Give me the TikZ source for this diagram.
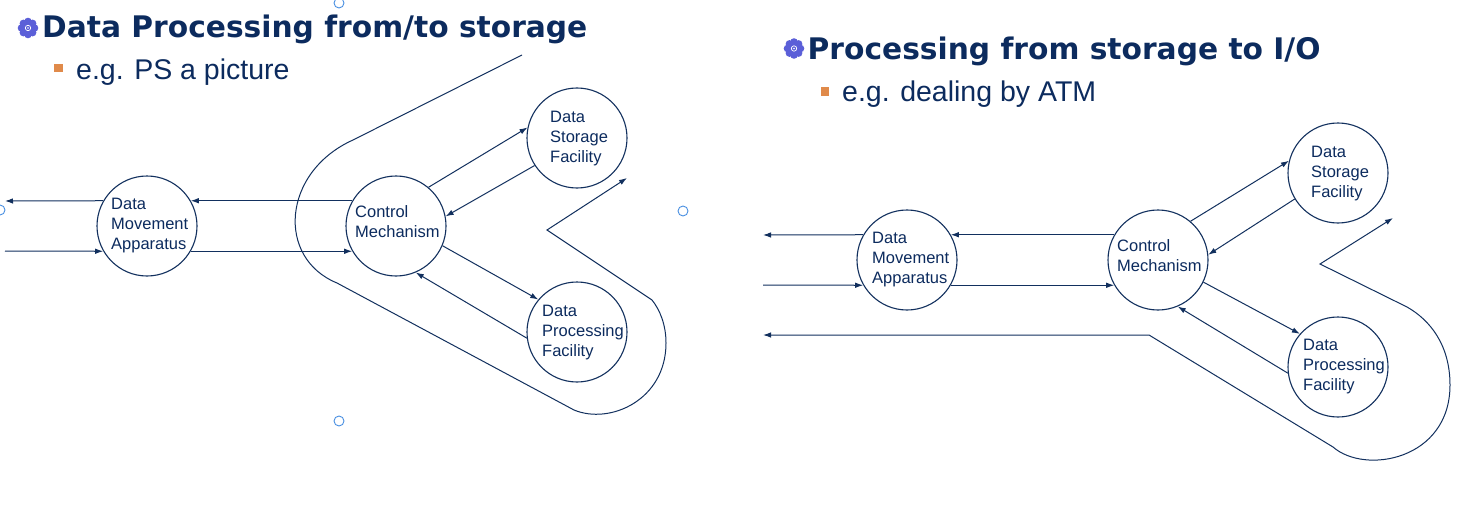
\documentclass[tikz,border=0pt]{standalone}
\usepackage{fontspec}
\setmainfont{Liberation Sans}
\newfontfamily\titlefont{DejaVu Sans}
\usetikzlibrary{arrows.meta}
\definecolor{navy}{HTML}{12305E}
\definecolor{txtnavy}{HTML}{0C2B5E}
\definecolor{bulletorange}{HTML}{E08A4A}
\definecolor{flowerblue}{HTML}{5B5FD8}
\definecolor{handleblue}{HTML}{4A90E2}
\newcommand\celltxt[1]{\begin{tabular}[t]{@{}l@{}}#1\end{tabular}}
\begin{document}
\begin{tikzpicture}[x=1pt,y=-1pt,
  proc/.style={circle, draw=navy, line width=1.1pt, minimum size=100pt, inner sep=0pt},
  lbl/.style={font=\fontsize{16.5}{20}\selectfont, text=txtnavy, anchor=base west, inner sep=0pt},
  flow/.style={draw=navy, line width=1pt, -{Latex[length=8pt,width=5.5pt]}},
  twoway/.style={draw=navy, line width=1pt, {Latex[length=8pt,width=5.5pt]}-{Latex[length=8pt,width=5.5pt]}},
  ttl/.style={anchor=base west, inner sep=0pt, text=txtnavy, font=\titlefont\bfseries\fontsize{29.7}{34}\selectfont},
  sub/.style={anchor=base west, inner sep=0pt, text=txtnavy, font=\fontsize{28.5}{34}\selectfont},
  handle/.style={circle, draw=handleblue, fill=white, line width=0.9pt, minimum size=10pt, inner sep=0pt},
  sq/.style={fill=bulletorange, minimum size=8.5pt, inner sep=0pt}
]
\fill[white] (0,0) rectangle (1464,516);
\useasboundingbox (0,0) rectangle (1464,516);

% ---------- bullets (flowers) ----------
\foreach \cx/\cy in {28/28, 794/48.5}{
  \begin{scope}[shift={(\cx,\cy)}]
    \foreach \a in {0,45,...,315}{\fill[flowerblue] (\a:6.5) circle (3.8);}
    \fill[flowerblue] (0,0) circle (6.8);
    \draw[white, line width=0.7pt] (0,0) circle (2.7);
    \fill[white] (0,0) circle (0.9);
  \end{scope}
}

% ---------- titles ----------
\node[ttl] (t1) at (42,37.5) {Data Processing from/to storage};
\node[sq] (q1) at (58.5,68) {};
\node[sub] (s1) at (76,80) {e.g. PS a picture};

\node[ttl] (t2) at (807.5,60) {Processing from storage to I/O};
\node[sq] (q2) at (825,91.5) {};
\node[sub] (s2) at (842,102) {e.g. dealing by ATM};

% ---------- handles ----------
\node[handle] (h1) at (339,3) {};
\node[handle] (h2) at (0,210) {};
\node[handle] (h3) at (683,211) {};
\node[handle] (h4) at (339,421) {};

% ---------- left diagram ----------
\node[proc] (M) at (147,226) {};
\node[proc] (C) at (396,226) {};
\node[proc] (S) at (577,138) {};
\node[proc] (P) at (577,332) {};
\node[lbl] (Mt) at (111,209) {\celltxt{Data\\Movement\\Apparatus}};
\node[lbl] (Ct) at (355,217.5) {\celltxt{Control\\Mechanism}};
\node[lbl] (St) at (550,122.5) {\celltxt{Data\\Storage\\Facility}};
\node[lbl] (Pt) at (542,316) {\celltxt{Data\\Processing\\Facility}};

\coordinate (Lout) at (5,201);
\coordinate (Lin) at (5,251);
\draw[flow] (M.150) -- (Lout);
\draw[flow] (Lin) -- (M.210);
\draw[flow] (C.150) -- (M.30);
\draw[flow] (M.330) -- (C.210);
\draw[flow] (C.50) -- (S.168);
\draw[flow] (S.213) -- (C.11);
\draw[flow] (C.337) -- (P.140);
\draw[flow] (P.187) -- (C.293);

\coordinate (a1) at (522,55);
\coordinate (a2) at (353,140);
\coordinate (a3) at (337,283);
\coordinate (a4) at (574,410);
\coordinate (a5) at (666,343);
\coordinate (a6) at (652,300);
\coordinate (a7) at (547,230);
\coordinate (a8) at (627,178);
\draw[flow] (a1) -- (a2) .. controls (282,172) and (276,258) .. (a3) -- (a4)
  .. controls (610,425) and (666,400) .. (a5) .. controls (666,325) and (660,310) .. (a6)
  -- (a7) -- (a8);

% ---------- right diagram ----------
\node[proc] (M2) at (907,260) {};
\node[proc] (C2) at (1158,260) {};
\node[proc] (S2) at (1338,173) {};
\node[proc] (P2) at (1338,367) {};
\node[lbl] (M2t) at (872,243) {\celltxt{Data\\Movement\\Apparatus}};
\node[lbl] (C2t) at (1117,251.5) {\celltxt{Control\\Mechanism}};
\node[lbl] (S2t) at (1311,157.5) {\celltxt{Data\\Storage\\Facility}};
\node[lbl] (P2t) at (1303,350) {\celltxt{Data\\Processing\\Facility}};

\coordinate (Rout) at (763,235);
\coordinate (Rin) at (763,285);
\draw[flow] (M2.150) -- (Rout);
\draw[flow] (Rin) -- (M2.210);
\draw[flow] (C2.150) -- (M2.30);
\draw[flow] (M2.330) -- (C2.210);
\draw[flow] (C2.50) -- (S2.166);
\draw[flow] (S2.211) -- (C2.6);
\draw[flow] (C2.334) -- (P2.139);
\draw[flow] (P2.187) -- (C2.293);

\coordinate (b0) at (763,335);
\coordinate (b1) at (1149,335);
\coordinate (b2) at (1333,447);
\coordinate (b3) at (1450,385);
\coordinate (b4) at (1407,307);
\coordinate (b5) at (1320,264);
\coordinate (b6) at (1393,218);
\draw[twoway] (b0) -- (b1) -- (b2) .. controls (1365,475) and (1450,460) .. (b3)
  .. controls (1450,345) and (1430,320) .. (b4) -- (b5) -- (b6);
\end{tikzpicture}
\end{document}
